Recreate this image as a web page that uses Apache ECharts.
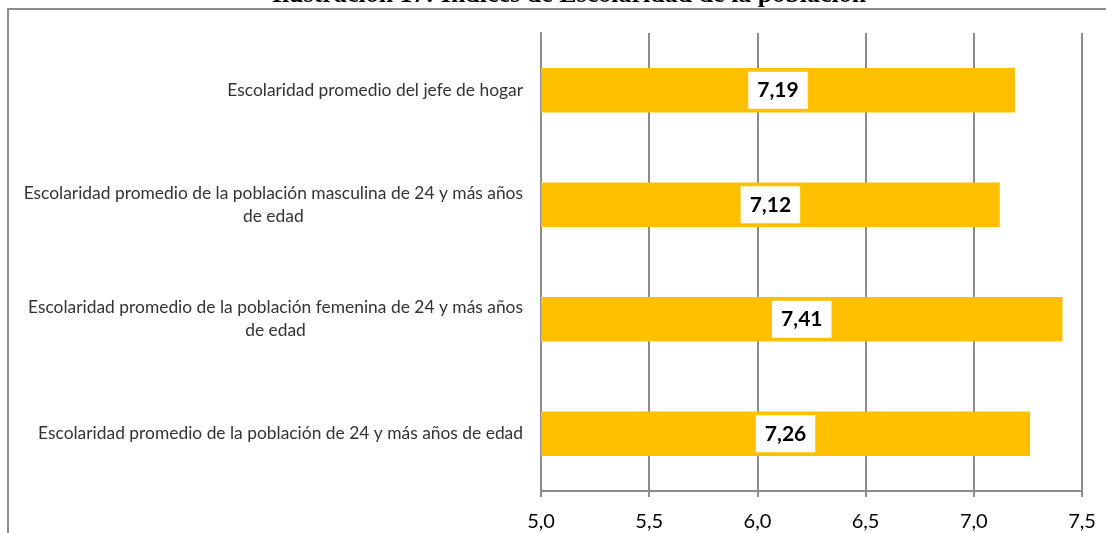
<!DOCTYPE html>
<html>
<head>
<meta charset="utf-8">
<script src="https://cdn.jsdelivr.net/npm/echarts@6/dist/echarts.min.js"></script>
<style>
  html, body { margin: 0; padding: 0; background: #fff; }
  #chart { width: 1106px; height: 533px; }
</style>
</head>
<body>
<div id="chart"></div>
<script>
// categories bottom to top (ECharts draws the first category at the bottom)
var categories = [
  'Escolaridad promedio de la población de 24 y más años de edad',
  'Escolaridad promedio de la población femenina de 24 y más años de edad',
  'Escolaridad promedio de la población masculina de 24 y más años de edad',
  'Escolaridad promedio del jefe de hogar'
];
var values = [7.26, 7.41, 7.12, 7.19];
var axisMin = 5.0, axisMax = 7.5, axisStep = 0.5;
var titleText = 'Ilustración 17: Índices de Escolaridad de la población';

function comma(v, d) {
  return Number(v).toFixed(d).replace('.', ',');
}

// wrap long labels into lines of at most 64 chars
function wrap(txt) {
  var words = txt.split(' '), lines = [], cur = '';
  words.forEach(function (w) {
    var next = cur ? cur + ' ' + w : w;
    if (next.length > 64) { lines.push(cur); cur = w; }
    else cur = next;
  });
  lines.push(cur);
  return lines.map(function (l) { return '{c|' + l + '}'; }).join('\n');
}

var chart = echarts.init(document.getElementById('chart'));
var option = {
  animation: false,
  backgroundColor: '#fff',
  title: {
    text: titleText,
    left: 564,
    textAlign: 'center',
    top: -23,
    textStyle: {
      fontFamily: 'Liberation Serif',
      fontWeight: 'bold',
      fontSize: 26,
      color: '#000'
    }
  },
  graphic: [{
    type: 'rect',
    z: -1,
    shape: { x: 8, y: 9, width: 1200, height: 600 },
    style: { fill: 'none', stroke: '#8c8c8c', lineWidth: 2 }
  }],
  grid: { left: 541, right: 24, top: 33, bottom: 42 },
  xAxis: {
    type: 'value',
    min: axisMin,
    max: axisMax,
    interval: axisStep,
    axisLine: { show: true, lineStyle: { color: '#8c8c8c', width: 2 } },
    axisTick: { show: true, length: 6, lineStyle: { color: '#8c8c8c', width: 2 } },
    splitLine: { show: true, lineStyle: { color: '#8c8c8c', width: 2 } },
    axisLabel: {
      margin: 21,
      fontFamily: 'Lato',
      fontSize: 20,
      color: '#000',
      formatter: function (v) { return comma(v, 1); }
    }
  },
  yAxis: {
    type: 'category',
    data: categories,
    axisLine: { show: true, lineStyle: { color: '#8c8c8c', width: 2 } },
    axisTick: { show: false },
    axisLabel: {
      margin: 18,
      color: '#333',
      formatter: wrap,
      rich: {
        c: { align: 'center', fontFamily: 'Lato', fontSize: 17.4, lineHeight: 23, color: '#333' }
      }
    }
  },
  series: [{
    type: 'bar',
    data: values,
    barCategoryGap: '61%',
    itemStyle: { color: '#FFC000' },
    label: {
      show: true,
      position: 'inside',
      formatter: function (p) { return comma(p.value, 2); },
      fontFamily: 'Lato',
      fontWeight: 'bold',
      fontSize: 21,
      lineHeight: 21,
      color: '#000',
      backgroundColor: '#fff',
      padding: [8, 9]
    }
  }]
};
chart.setOption(option);
window.addEventListener('resize', chart.resize);
</script>
</body>
</html>
